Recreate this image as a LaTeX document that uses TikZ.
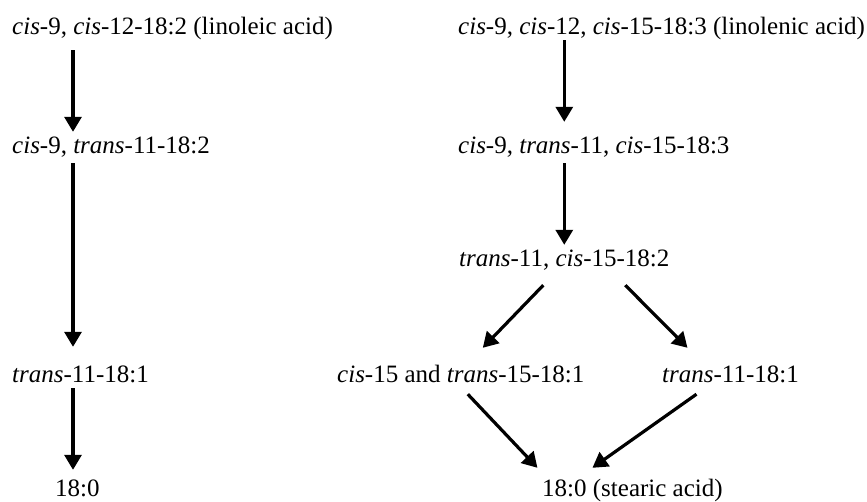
\documentclass[tikz,border=0pt]{standalone}
\usepackage{fontspec}
\setmainfont{Liberation Serif}
\usepackage{tikz}
\usetikzlibrary{arrows.meta}

\tikzset{
  acide/.style={anchor=base west, inner sep=0pt, text height=18pt, text depth=6pt,
    font=\fontsize{25}{30}\selectfont},
  fleche/.style={line width=3.2pt, -{Triangle[length=15pt,width=17pt]}}
}

\begin{document}
\begin{tikzpicture}[x=1pt,y=-1pt]
%					Cadre :
					\useasboundingbox (0,0) rectangle (867,501);
%					Voie de l'acide linoléique :
					\node[acide] (l1) at (12,34) {\textit{cis}-9, \textit{cis}-12-18:2 (linoleic acid)};
					\node[acide] (l2) at (12,153) {\textit{cis}-9, \textit{trans}-11-18:2};
					\node[acide] (l3) at (12,382) {\textit{trans}-11-18:1};
					\node[acide] (l4) at (55,496) {18:0};
					\coordinate (axe) at ([xshift=61]l1.south west);
%					Voie de l'acide linolénique :
					\node[acide] (r1) at (458,34) {\textit{cis}-9, \textit{cis}-12, \textit{cis}-15-18:3 (linolenic acid)};
					\node[acide] (r2) at (458,153) {\textit{cis}-9, \textit{trans}-11, \textit{cis}-15-18:3};
					\node[acide] (r3) at (459,266) {\textit{trans}-11, \textit{cis}-15-18:2};
					\node[acide] (r4) at (337,382) {\textit{cis}-15 and \textit{trans}-15-18:1};
					\node[acide] (r5) at (662,382) {\textit{trans}-11-18:1};
					\node[acide] (r6) at (542,496) {18:0 (stearic acid)};
%					Flèches de gauche :
					\draw[fleche] ([shift={(0,10)}]l1.south -| axe) -- ([shift={(0,-3)}]l2.north -| axe);
					\draw[fleche] ([shift={(0,4)}]l2.south -| axe) -- ([shift={(0,-17)}]l3.north -| axe);
					\draw[fleche] (l3.south -| axe) -- ([shift={(0,-8)}]l4.north -| axe);
%					Flèches de droite :
					\draw[fleche] (r1.south -| r3.south) -- ([shift={(0,-13)}]r2.north -| r3.north);
					\draw[fleche] ([shift={(0,4)}]r2.south -| r3.south) -- ([shift={(0,-3)}]r3.north);
					\draw[fleche] ([shift={(-21,13)}]r3.south) -- ([shift={(22,-16)}]r4.north);
					\draw[fleche] ([shift={(61,13)}]r3.south) -- ([shift={(-43,-16)}]r5.north);
					\draw[fleche] ([shift={(7,6)}]r4.south) -- ([shift={(-95,-10)}]r6.north);
					\draw[fleche] ([shift={(-34,6)}]r5.south) -- ([shift={(-40,-10)}]r6.north);
				\end{tikzpicture}
\end{document}
